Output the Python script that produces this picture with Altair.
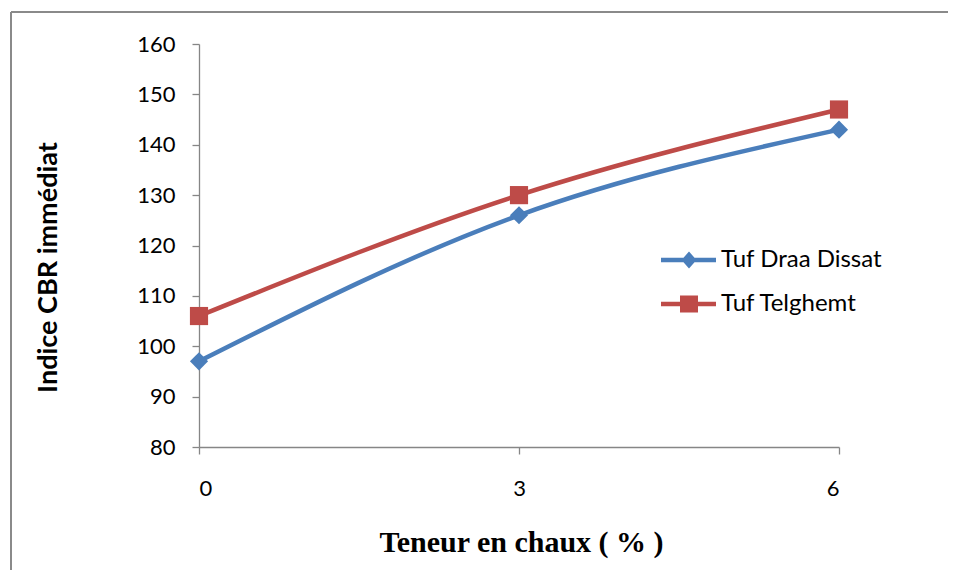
import altair as alt
import pandas as pd

# ---- data ----
x_vals = [0, 3, 6]
draa_dissat = [97, 126, 143]
telghemt = [106, 130, 147]
series_names = ["Tuf Draa Dissat", "Tuf Telghemt"]
series_colors = ["#4A7EBB", "#BE4B48"]
x_ticks = [0, 3, 6]
y_ticks = [80, 90, 100, 110, 120, 130, 140, 150, 160]

rows = []
for name, vals in zip(series_names, [draa_dissat, telghemt]):
    for xv, yv in zip(x_vals, vals):
        rows.append({"teneur": xv, "cbr": yv, "serie": name})
df = pd.DataFrame(rows)

FONT = "Lato"
AXIS_GRAY = "#868686"

x_enc = alt.X(
    "teneur:Q",
    scale=alt.Scale(domain=[0, 6], nice=False, zero=False),
    axis=alt.Axis(
        values=x_ticks,
        title="Teneur en chaux ( % )",
        titleFont="Liberation Serif",
        titleFontSize=30,
        titleFontWeight="bold",
        titleColor="black",
        titleBaseline="alphabetic",
        titleY=104,
        titleX=322,
        labelPadding=24,
    ),
)
y_enc = alt.Y(
    "cbr:Q",
    scale=alt.Scale(domain=[80, 160], nice=False, zero=False),
    axis=alt.Axis(
        values=y_ticks,
        title="Indice CBR immédiat",
        titleFont=FONT,
        titleFontSize=27,
        titleFontWeight="bold",
        titleColor="black",
        titleBaseline="alphabetic",
        titleAngle=270,
        titleX=-143,
        titleY=223,
        labelPadding=17,
    ),
)

color_scale = alt.Scale(domain=series_names, range=series_colors)

lines = alt.Chart(df).mark_line(interpolate="monotone", strokeWidth=4.5).encode(
    x=x_enc, y=y_enc,
    color=alt.Color("serie:N", scale=color_scale, legend=None),
)

points = alt.Chart(df).mark_point(filled=True, opacity=1, size=330).encode(
    x=x_enc, y=y_enc,
    color=alt.Color("serie:N", scale=color_scale, legend=None),
    shape=alt.Shape("serie:N", scale=alt.Scale(domain=series_names, range=["diamond", "square"]), legend=None),
)

# legend symbols: line with marker (units of 10px)
diamond_path = "M-4.5,-0.22H1V0.22H-4.5Z M-2.45,0L-1.7,-0.85L-0.95,0L-1.7,0.85Z"
square_path = "M-4.5,-0.22H1V0.22H-4.5Z M-2.6,-0.85H-0.8V0.85H-2.6Z"

legend_props = dict(
    title=None,
    orient="none",
    legendX=495,
    legendY=204,
    symbolSize=400,
    symbolOpacity=1,
    symbolStrokeWidth=0,
    labelFont=FONT,
    labelFontSize=24,
    labelColor="black",
    labelOffset=3,
    labelLimit=400,
    rowPadding=20,
    padding=0,
)

legend_layer = alt.Chart(df).mark_point(filled=True, opacity=0, size=1).encode(
    x=x_enc, y=y_enc,
    color=alt.Color("serie:N", scale=color_scale, legend=alt.Legend(**legend_props)),
    shape=alt.Shape("serie:N", scale=alt.Scale(domain=series_names, range=[diamond_path, square_path]),
                    legend=alt.Legend(**legend_props)),
)

frame_df = pd.DataFrame({"k": [0]})
left_rule = alt.Chart(frame_df).mark_rule(color="#8a8a8a", strokeWidth=2).encode(
    x=alt.value(-188), y=alt.value(-32), y2=alt.value(526)
)
top_rule = alt.Chart(frame_df).mark_rule(color="#8a8a8a", strokeWidth=2).encode(
    x=alt.value(-188), x2=alt.value(749), y=alt.value(-32)
)

chart = (
    alt.layer(left_rule, top_rule, lines, points, legend_layer)
    .resolve_scale(color="independent", shape="independent")
    .properties(width=640, height=403, padding={"left": 2, "top": 3, "right": 0, "bottom": 0})
    .configure_view(stroke=None)
    .configure_axis(
        grid=False,
        domainColor=AXIS_GRAY,
        domainWidth=1.3,
        tickColor=AXIS_GRAY,
        tickSize=7,
        tickWidth=1.3,
        labelFont=FONT,
        labelFontSize=22,
        labelColor="black",
    )
)

chart.save("out.html", embed_options={"renderer": "svg", "actions": False})
